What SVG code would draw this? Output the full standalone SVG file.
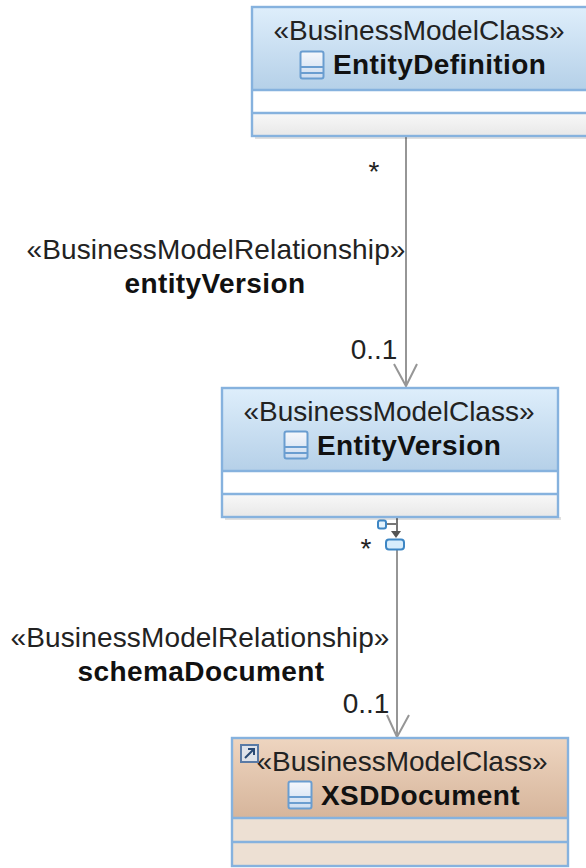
<svg xmlns="http://www.w3.org/2000/svg" width="586" height="868" viewBox="0 0 586 868">
<style>
text{font-family:"Liberation Sans",Arial,sans-serif;font-size:28px;fill:#222}
.b{font-weight:bold;fill:#111;letter-spacing:.4px}
.r{letter-spacing:.15px}
.m{text-anchor:middle}
.frame{fill:none;stroke:#86b2de;stroke-width:2.4}
.sep{stroke:#86b2de;stroke-width:2.4}
.conn{fill:none;stroke:#969696;stroke-width:2}
.shadow{fill:#000;fill-opacity:.12}
</style>
<defs>
<linearGradient id="blue" x1="0" y1="0" x2="0" y2="1"><stop offset="0" stop-color="#deeefb"/><stop offset="1" stop-color="#b5d0e8"/></linearGradient>
<linearGradient id="tan" x1="0" y1="0" x2="0" y2="1"><stop offset="0" stop-color="#eed5c0"/><stop offset="1" stop-color="#d6b59b"/></linearGradient>
<linearGradient id="low" x1="0" y1="0" x2="0" y2="1"><stop offset="0" stop-color="#f8f8f8"/><stop offset="1" stop-color="#e8e8e8"/></linearGradient>
<linearGradient id="ic" x1="0" y1="0" x2="0" y2="1"><stop offset="0" stop-color="#f6f8fc"/><stop offset="1" stop-color="#ccdcf0"/></linearGradient>
<g id="icon"><rect x="0.5" y="0.5" width="23" height="27" rx="2" fill="url(#ic)" stroke="#6a9dd0" stroke-width="2"/><path d="M1 16H24M1 22H24" stroke="#6a9dd0" stroke-width="2"/></g>
</defs>
<g id="connectors">
<path class="conn" d="M406 137V386M394 364L406 386L417 364"/>
<path class="conn" d="M397 548V737M387 715L397 737L409 715"/>
<path d="M397 518V532M385 524H397" fill="none" stroke="#777" stroke-width="2"/>
<path d="M391 531H401L396 538Z" fill="#555"/>
<rect x="378" y="520.500" width="8" height="8" rx="2" fill="#e2f2fd" stroke="#3d86c4" stroke-width="2"/>
<rect x="386" y="539.500" width="18" height="10" rx="3" fill="#d8edfc" stroke="#3d86c4" stroke-width="2"/>
</g>
<g id="labels">
<text x="374" y="181" class="m">*</text>
<text x="216" y="259" class="m r">«BusinessModelRelationship»</text>
<text x="215" y="293" class="m b">entityVersion</text>
<text x="374" y="359" class="m">0..1</text>
<text x="366" y="558" class="m">*</text>
<text x="200" y="647" class="m r">«BusinessModelRelationship»</text>
<text x="201" y="681" class="m b">schemaDocument</text>
<text x="366" y="713" class="m">0..1</text>
</g>
<g id="EntityDefinition">
<rect class="shadow" x="255" y="136" width="340" height="3"/>
<rect x="252" y="7" width="340" height="129" fill="#fff"/>
<rect x="252" y="7" width="340" height="83" fill="url(#blue)"/>
<rect x="252" y="113" width="340" height="23" fill="url(#low)"/>
<rect class="frame" x="252" y="7" width="340" height="129"/>
<path class="sep" d="M252 90H592M252 113H592"/>
<text x="419" y="40" class="m">«BusinessModelClass»</text>
<use href="#icon" x="300" y="51"/>
<text x="333" y="74" class="b">EntityDefinition</text>
</g>
<g id="EntityVersion">
<rect class="shadow" x="225" y="517" width="336" height="3"/>
<rect x="222" y="388" width="336" height="129" fill="#fff"/>
<rect x="222" y="388" width="336" height="83" fill="url(#blue)"/>
<rect x="222" y="494" width="336" height="23" fill="url(#low)"/>
<rect class="frame" x="222" y="388" width="336" height="129"/>
<path class="sep" d="M222 471H558M222 494H558"/>
<text x="389" y="421" class="m">«BusinessModelClass»</text>
<use href="#icon" x="284" y="431"/>
<text x="317" y="455" class="b">EntityVersion</text>
</g>
<g id="XSDDocument">
<rect x="232" y="738" width="336" height="128" fill="#ede0d3"/>
<rect x="232" y="738" width="336" height="80" fill="url(#tan)"/>
<rect class="frame" x="232" y="738" width="336" height="128"/>
<path class="sep" d="M232 818H568M232 842H568"/>
<text x="402" y="771" class="m">«BusinessModelClass»</text>
<rect x="241" y="745" width="17" height="17" fill="#dde6f3" fill-opacity=".85" stroke="#5a7aa5" stroke-width="2"/>
<path d="M245 758L254 749M248 749H254V755" fill="none" stroke="#2a4a75" stroke-width="2"/>
<use href="#icon" x="288" y="781"/>
<text x="321" y="805" class="b">XSDDocument</text>
</g>
</svg>
